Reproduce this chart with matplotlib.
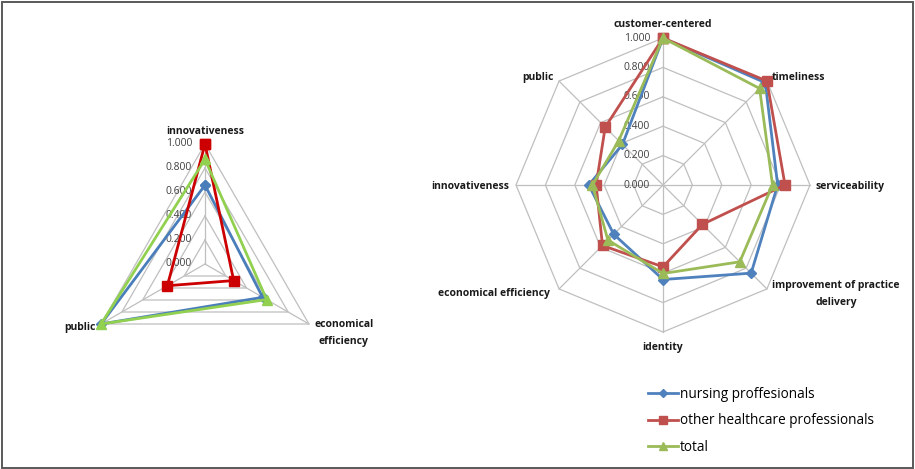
import numpy as np
import matplotlib.pyplot as plt
from matplotlib.patches import Rectangle

plt.rcParams['font.family'] = ['Open Sans', 'DejaVu Sans']

# -----------------------------
# Data
# -----------------------------
series_names = ["nursing proffesionals", "other healthcare professionals", "total"]

left_axes = ["innovativeness", "economical\nefficiency", "public"]
left_nursing = [0.657, 0.555, 1.000]
left_other = [1.000, 0.276, 0.362]
left_total = [0.872, 0.593, 1.000]

right_axes = ["customer-centered", "timeliness", "serviceability",
              "improvement of practice\ndelivery", "identity",
              "economical efficiency", "innovativeness", "public"]
right_nursing = [1.000, 0.984, 0.780, 0.848, 0.643, 0.474, 0.505, 0.390]
right_other = [1.000, 1.000, 0.830, 0.379, 0.557, 0.582, 0.455, 0.556]
right_total = [1.000, 0.929, 0.745, 0.739, 0.602, 0.530, 0.480, 0.426]

ring_levels = [0.0, 0.2, 0.4, 0.6, 0.8, 1.0]

W, H = 915, 469
fig = plt.figure(figsize=(W / 100, H / 100), dpi=100)

# whole-figure border like the Excel chart area
fig.patches.append(Rectangle((1.5 / W, 1.5 / H), 1 - 4 / W, 1 - 4 / H,
                             transform=fig.transFigure, fill=False,
                             ec="#595959", lw=1.4))


def radar(rect, labels, values, colors, label_offsets):
    ax = fig.add_axes(rect, projection="polar")
    n = len(labels)
    theta = np.arange(n) * 2 * np.pi / n
    ax.set_theta_zero_location("N")
    ax.set_theta_direction(-1)
    ax.set_ylim(0, 1)
    ax.grid(False)
    ax.set_xticks([])
    ax.set_yticks([])
    ax.spines["polar"].set_visible(False)
    ax.patch.set_alpha(0)

    closed = np.append(theta, theta[0])
    # polygon rings + spokes
    for lv in ring_levels[1:]:
        ax.plot(closed, [lv] * (n + 1), color="#BFBFBF", lw=0.9, zorder=1,
                clip_on=False)
    for t in theta:
        ax.plot([t, t], [0, 1], color="#BFBFBF", lw=0.9, zorder=1, clip_on=False)

    # radial tick labels
    for lv in ring_levels:
        ax.annotate(f"{lv:.3f}", xy=(0, lv), xytext=(-13, 0),
                    textcoords="offset pixels", ha="right", va="center",
                    fontsize=7.5, color="#404040", zorder=2)

    markers = ["D", "s", "^"]
    msizes = [5, 6.5, 6.5]
    for vals, c, m, ms, name in zip(values, colors, markers, msizes, series_names):
        ax.plot(closed, np.append(vals, vals[0]), color=c, lw=2.0, marker=m,
                ms=ms, mec=c, mfc=c, clip_on=False, zorder=3, label=name)

    for t, lab, (dx, dy, ha) in zip(theta, labels, label_offsets):
        ax.annotate(lab, xy=(t, 1), xytext=(dx, dy), textcoords="offset pixels",
                    ha=ha, va="center", fontsize=7.5, fontweight="bold",
                    color="#1A1A1A", linespacing=1.75, multialignment="center")
    return ax


# left chart: center (205, 264), radius 120 px
cx, cy, r = 205, 264, 120
radar([(cx - r) / W, (H - cy - r) / H, 2 * r / W, 2 * r / H],
      left_axes, [left_nursing, left_other, left_total],
      ["#4A7EBB", "#CC0000", "#92D050"],
      [(0, 12, "center"), (35, -9, "center"), (-5, -3, "right")])

# right chart: center (663, 185), radius 147 px
cx, cy, r = 663, 185, 147
ax_r = radar([(cx - r) / W, (H - cy - r) / H, 2 * r / W, 2 * r / H],
             right_axes, [right_nursing, right_other, right_total],
             ["#4F81BD", "#C0504D", "#9BBB59"],
             [(0, 14, "center"), (5, 4, "left"), (6, -1, "left"),
              (69, -5, "center"), (0, -15, "center"), (-9, -5, "right"),
              (-7, -1, "right"), (-5, 4, "right")])

fig.legend(*ax_r.get_legend_handles_labels(), loc="upper left",
           bbox_to_anchor=(641 / W, 1 - 380 / H), frameon=False,
           fontsize=9.8, handlelength=2.25, handletextpad=0.1,
           labelspacing=0.85, borderpad=0, markerscale=0.9)

fig.savefig("out.png", dpi=100)
